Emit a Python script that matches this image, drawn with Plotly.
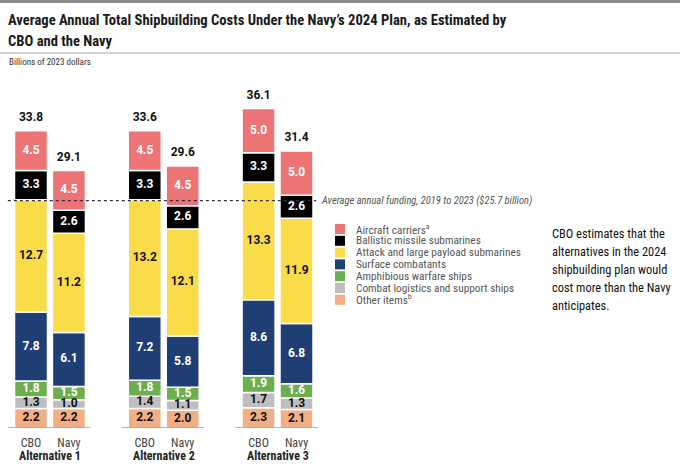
import plotly.graph_objects as go

# ---- data ----
alternatives = ["Alternative 1", "Alternative 2", "Alternative 3"]
bar_labels = ["CBO", "Navy", "CBO", "Navy", "CBO", "Navy"]
x_pos = [0, 1, 3, 4, 6, 7]

series_names = ["Other items<sup>b</sup>", "Combat logistics and support ships",
                "Amphibious warfare ships", "Surface combatants",
                "Attack and large payload submarines", "Ballistic missile submarines",
                "Aircraft carriers<sup>a</sup>"]
other_items = [2.2, 2.2, 2.2, 2.0, 2.3, 2.1]
combat_logistics = [1.3, 1.0, 1.4, 1.1, 1.7, 1.3]
amphibious = [1.8, 1.5, 1.8, 1.5, 1.9, 1.6]
surface = [7.8, 6.1, 7.2, 5.8, 8.6, 6.8]
attack_subs = [12.7, 11.2, 13.2, 12.1, 13.3, 11.9]
ballistic_subs = [3.3, 2.6, 3.3, 2.6, 3.3, 2.6]
carriers = [4.5, 4.5, 4.5, 4.5, 5.0, 5.0]
totals = [33.8, 29.1, 33.6, 29.6, 36.1, 31.4]
avg_funding = 25.7

title_lines = ["Average Annual Total Shipbuilding Costs Under the Navy\u2019s 2024 Plan, as Estimated by",
               "CBO and the Navy"]
subtitle = "Billions of 2023 dollars"
note_lines = ["CBO estimates that the", "alternatives in the 2024", "shipbuilding plan would",
              "cost more than the Navy", "anticipates."]

series_values = [other_items, combat_logistics, amphibious, surface,
                 attack_subs, ballistic_subs, carriers]
colors = ["#F2AE84", "#BEBEC0", "#6DAE50", "#1F3F74", "#FADC4B", "#000000", "#EC7474"]
label_colors = ["#111111", "#111111", "white", "white", "#111111", "white", "white"]

COND = "Roboto Condensed, Roboto, sans-serif"
NUM = "Roboto, sans-serif"
W, H = 680, 466


def py(ypx):
    return 1 - ypx / H


def pxx(xpx):
    return xpx / W


fig = go.Figure()
base = [0.0] * len(x_pos)
for name, vals, col, lcol in zip(series_names, series_values, colors, label_colors):
    fig.add_trace(go.Bar(
        x=x_pos, y=vals, base=base, name=name, width=0.87,
        marker=dict(color=col, line=dict(color="white", width=1.5)),
        showlegend=False, hoverinfo="skip"))
    mids = [b + v / 2 for b, v in zip(base, vals)]
    fig.add_trace(go.Scatter(
        x=x_pos, y=mids, mode="text", text=[f"{v:.1f}" for v in vals],
        textfont=dict(color=lcol, size=12, family=NUM, weight="bold"),
        showlegend=False, hoverinfo="skip", cliponaxis=False))
    base = [b + v for b, v in zip(base, vals)]

# totals above bars (transparent marker pushes the label up a little)
fig.add_trace(go.Scatter(
    x=x_pos, y=base, mode="text+markers", text=[f"{t:.1f}" for t in totals],
    textposition="top center", marker=dict(size=9, opacity=0),
    textfont=dict(color="#111111", size=12, family=NUM, weight="bold"),
    showlegend=False, hoverinfo="skip", cliponaxis=False))

shapes = []
annotations = []
# group baselines and group labels
for g, alt in enumerate(alternatives):
    xs = x_pos[2 * g:2 * g + 2]
    shapes.append(dict(type="line", xref="x", yref="y", x0=xs[0] - 0.61, x1=xs[1] + 0.56,
                       y0=0, y1=0, line=dict(color="#9a9a9a", width=1.5)))
    annotations.append(dict(xref="x", yref="paper", x=(xs[0] + xs[1]) / 2, y=py(456),
                            yanchor="middle", text=f"<b>{alt}</b>", showarrow=False,
                            font=dict(size=12, family=COND, color="#222222")))

# average funding dotted line
shapes.append(dict(type="line", xref="x", yref="y", x0=x_pos[0] - 0.61, x1=x_pos[-1] + 0.52,
                   y0=avg_funding, y1=avg_funding,
                   line=dict(color="#333344", width=1.3, dash="dot")))
annotations.append(dict(xref="x", yref="y", x=x_pos[-1] + 0.58, y=avg_funding,
                        xanchor="left", yanchor="middle", showarrow=False,
                        text=f"<i>Average annual funding, 2019 to 2023 (${avg_funding} billion)</i>",
                        font=dict(size=10.5, family=COND, color="#555555")))

# manual legend (top to bottom: carriers first)
leg_top = 229
leg_step = 11.8
for i, (name, col) in enumerate(zip(series_names[::-1], colors[::-1])):
    yc = leg_top + i * leg_step
    shapes.append(dict(type="rect", xref="paper", yref="paper",
                       x0=pxx(335), x1=pxx(345), y0=py(yc + 5), y1=py(yc - 5),
                       fillcolor=col, line=dict(width=0)))
    annotations.append(dict(xref="paper", yref="paper", x=pxx(354), y=py(yc),
                            xanchor="left", yanchor="middle", showarrow=False,
                            text=name, font=dict(size=11.3, family=COND, color="#555555")))

# side note
for i, line in enumerate(note_lines):
    annotations.append(dict(xref="paper", yref="paper", x=pxx(550), y=py(233 + i * 18),
                            xanchor="left", yanchor="middle", showarrow=False,
                            text=line, font=dict(size=12.4, family=COND, color="#111111")))

# title and subtitle
for i, line in enumerate(title_lines):
    annotations.append(dict(xref="paper", yref="paper", x=pxx(6), y=py(20 + i * 21),
                            xanchor="left", yanchor="middle", showarrow=False,
                            text=f"<b>{line}</b>",
                            font=dict(size=14.6, family=COND, color="#1a1a1a")))
annotations.append(dict(xref="paper", yref="paper", x=pxx(7), y=py(62),
                        xanchor="left", yanchor="middle", showarrow=False,
                        text=subtitle, font=dict(size=9, family=COND, color="#333333")))
# rules
shapes.append(dict(type="line", xref="paper", yref="paper", x0=0, x1=1,
                   y0=py(1.5), y1=py(1.5), line=dict(color="#8c8c8c", width=3)))
shapes.append(dict(type="line", xref="paper", yref="paper", x0=0, x1=1,
                   y0=py(53), y1=py(53), line=dict(color="#aaaaaa", width=1)))

px_per_unit = 37.93
x_min = x_pos[0] - 31 / px_per_unit
x_max = x_pos[-1] + (W - 296.5) / px_per_unit
plot_top, plot_bottom = 80, 428
px_per_value = 8.85

fig.update_layout(
    width=W, height=H,
    margin=dict(l=0, r=0, t=0, b=0),
    paper_bgcolor="white", plot_bgcolor="white",
    barmode="overlay", showlegend=False,
    xaxis=dict(range=[x_min, x_max], domain=[0, 1], tickvals=x_pos, ticktext=bar_labels,
               showgrid=False, zeroline=False, showline=False, ticks="",
               ticklabelstandoff=6,
               tickfont=dict(size=12, family=COND, color="#444444"), fixedrange=True),
    yaxis=dict(range=[0, (plot_bottom - plot_top) / px_per_value],
               domain=[1 - plot_bottom / H, 1 - plot_top / H],
               showgrid=False, zeroline=False, showline=False,
               showticklabels=False, fixedrange=True),
    shapes=shapes, annotations=annotations,
)

fig.write_html("out.html", config={"displayModeBar": False},
               post_script="document.body.style.margin='0';document.body.style.padding='0';")
